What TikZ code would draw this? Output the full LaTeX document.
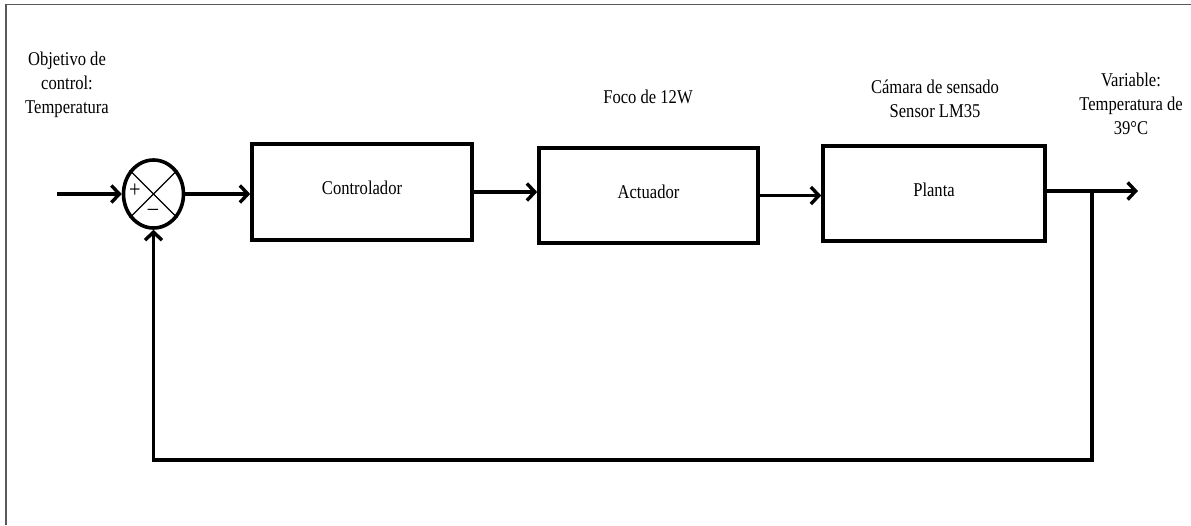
\documentclass[tikz,border=0pt]{standalone}
\usepackage{fontspec}
\setmainfont{Liberation Serif}[FakeStretch=0.85]
\usetikzlibrary{arrows.meta,shapes.geometric}
\begin{document}
\begin{tikzpicture}[x=1pt,y=-1pt,
  every node/.style={font=\fontsize{19.5}{24}\selectfont},
  blockbox/.style={draw,line width=3.6pt,minimum width=220pt,minimum height=96pt,inner sep=0pt,text depth=8pt},
  conn/.style={line width=3.6pt,-{Straight Barb[length=8pt,width=17pt,line width=3.4pt]}},
  lbl/.style={align=center,inner sep=0pt}]
\useasboundingbox (0,0) rectangle (1191,525);
% frame
\draw[gray!70!black,line width=1.5pt] (6,525) -- (6,4.5) -- (1191,4.5);
% summing junction
\node[draw,ellipse,line width=3.6pt,minimum width=60pt,minimum height=68pt,inner sep=0pt] (sum) at (153.5,194) {};
\draw[line width=1.4pt] (sum.45) -- (sum.225);
\draw[line width=1.4pt] (sum.135) -- (sum.315);
\node[inner sep=0pt,font=\fontsize{24}{24}\selectfont] (plus) at (135,191) {+};
\node[inner sep=0pt,font=\fontsize{24}{24}\selectfont] (minus) at (153,212) {\textendash};
% blocks
\node[blockbox] (ctrl) at (362,192) {Controlador};
\node[blockbox,minimum width=219pt,minimum height=95pt] (act) at (648.5,195.5) {Actuador};
\node[blockbox,minimum width=222pt,minimum height=95pt] (plant) at (934,193.5) {Planta};
% labels
\node[lbl] (obj) at (67,85) {Objetivo de\\control:\\Temperatura};
\node[lbl] (foco) at (648,97) {Foco de 12W};
\node[lbl] (cam) at (935,99) {Cámara de sensado\\Sensor LM35};
\node[lbl] (var) at (1131,104) {Variable:\\Temperatura de\\39°C};
% coordinates
\coordinate (in) at (57,194);
\coordinate (out) at (1138,191);
\coordinate (br) at (1092,191);
\coordinate (fb) at (1092,460);
% connectors
\draw[conn] (in) -- (sum.west);
\draw[conn] (sum.east) -- (sum.east -| ctrl.west);
\draw[conn] (ctrl.east) -- (ctrl.east -| act.west);
\draw[conn] (act.east) -- (act.east -| plant.west);
\draw[conn] (plant.east |- out) -- (out);
\draw[conn,line join=miter] (br) -- (fb) -- (fb -| sum.south) -- (sum.south);
\end{tikzpicture}
\end{document}
